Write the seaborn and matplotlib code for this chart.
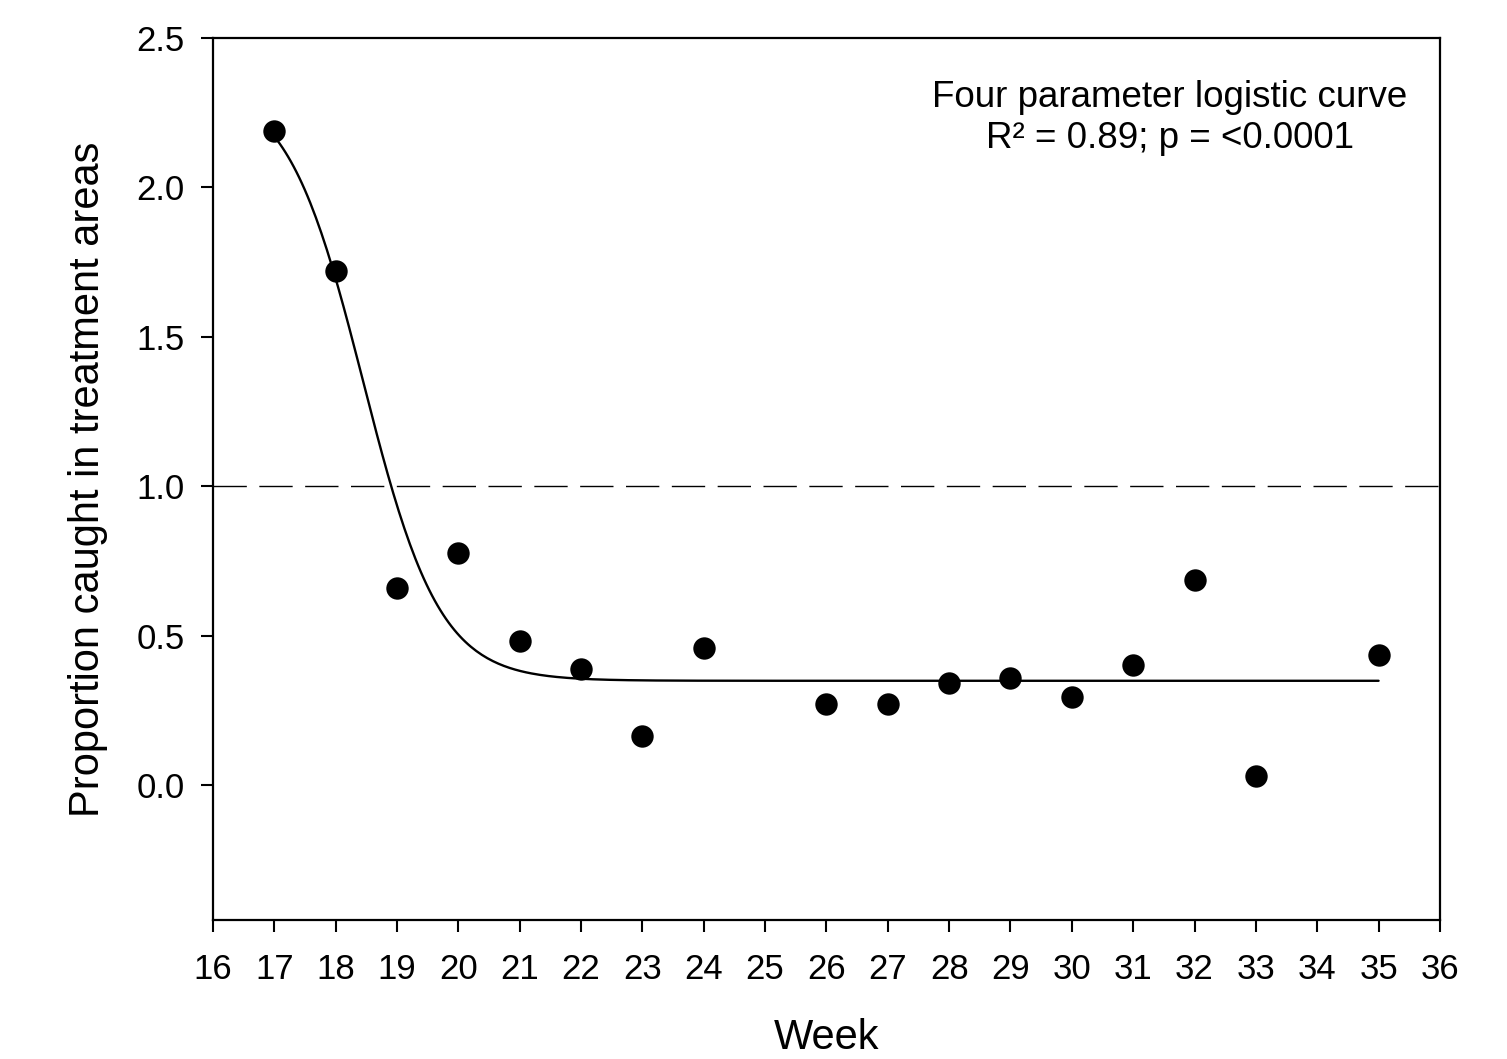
import matplotlib
matplotlib.use('Agg')
import matplotlib.pyplot as plt
import numpy as np
import pandas as pd
import seaborn as sns

# Weekly values
weeks = [17, 18, 19, 20, 21, 22, 23, 24, 26, 27, 28, 29, 30, 31, 32, 33, 35]
proportion = [2.19, 1.72, 0.66, 0.776, 0.482, 0.388, 0.164, 0.458,
              0.271, 0.271, 0.341, 0.358, 0.295, 0.402, 0.686, 0.030, 0.435]

# Four parameter logistic fit: top, bottom, midpoint, slope
fit_top = 2.35
fit_bottom = 0.35
fit_mid = 18.45
fit_slope = 1.6

x_ticks = list(range(16, 37))
y_ticks = [0.0, 0.5, 1.0, 1.5, 2.0, 2.5]
reference_level = 1.0

sns.set_style('ticks')
plt.rcParams['font.family'] = ['Liberation Sans', 'DejaVu Sans']
plt.rcParams['text.color'] = 'black'
plt.rcParams['axes.labelcolor'] = 'black'
plt.rcParams['xtick.color'] = 'black'
plt.rcParams['ytick.color'] = 'black'

df = pd.DataFrame({'Week': weeks, 'Proportion': proportion})
curve_x = np.linspace(min(weeks), max(weeks), 400)
curve = pd.DataFrame({
    'Week': curve_x,
    'Proportion': fit_bottom + (fit_top - fit_bottom) / (1 + np.exp(fit_slope * (curve_x - fit_mid))),
})

fig = plt.figure(figsize=(15.07, 10.59), dpi=100)
ax = fig.add_axes([0.1413, 0.1313, 0.8142, 0.8328])

ax.axhline(reference_level, color='black', lw=1.0, dashes=(24, 9), zorder=1)
sns.lineplot(data=curve, x='Week', y='Proportion', color='black', lw=1.7, ax=ax, zorder=2)
sns.scatterplot(data=df, x='Week', y='Proportion', color='black', s=260,
                edgecolor='black', linewidth=0, ax=ax, zorder=3)

ax.set_xlim(16, 36)
ax.set_ylim(-0.45, 2.5)
ax.set_xticks(x_ticks)
ax.set_yticks(y_ticks)
ax.set_yticklabels([f'{v:.1f}' for v in y_ticks])
ax.tick_params(axis='both', direction='out', length=8.5, width=1.5, labelsize=25)
ax.tick_params(axis='x', pad=15)
ax.tick_params(axis='y', pad=12)
for spine in ax.spines.values():
    spine.set_linewidth(1.6)
    spine.set_color('black')

ax.set_xlabel('Week', fontsize=30, labelpad=23)
ax.set_ylabel('Proportion caught in treatment areas', fontsize=30, labelpad=20)

ax.text(0.78, 0.952, 'Four parameter logistic curve\nR\u00b2 = 0.89; p = <0.0001',
        transform=ax.transAxes, ha='center', va='top', fontsize=26.5, linespacing=1.2)

fig.savefig('out.png', dpi=100)
